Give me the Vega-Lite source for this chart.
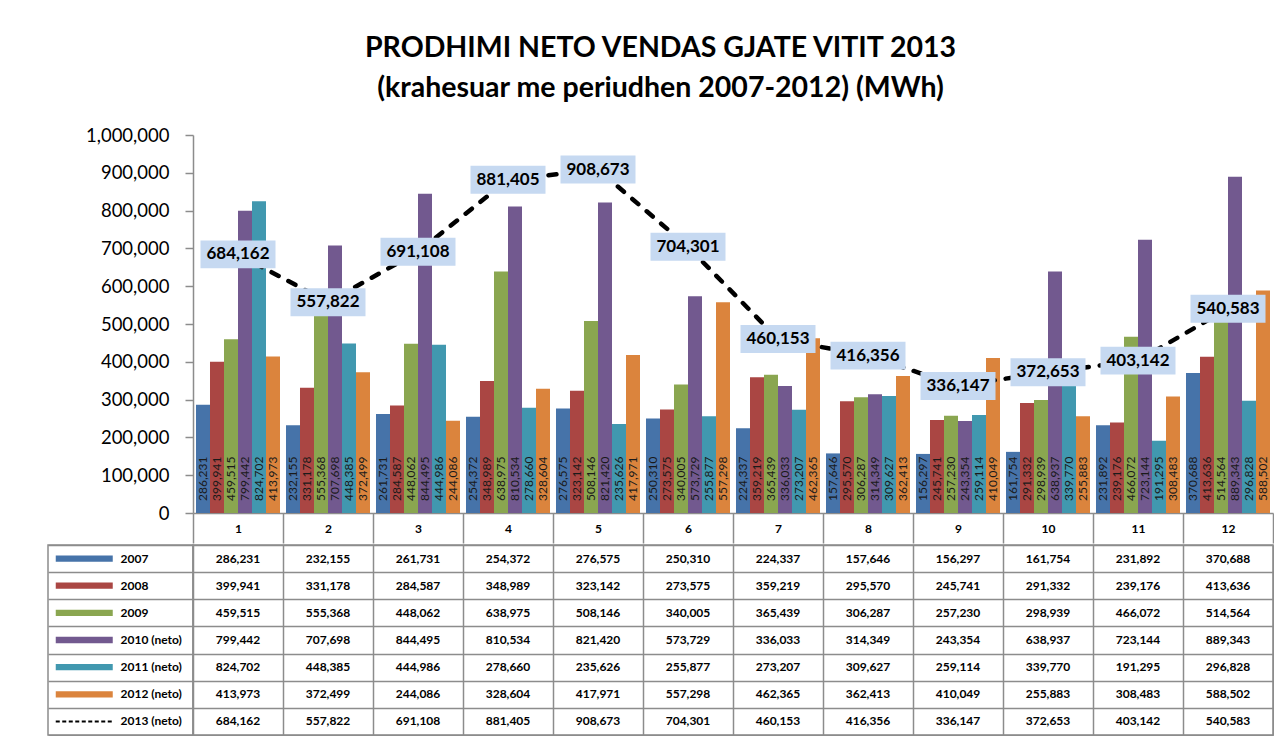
{
  "$schema": "https://vega.github.io/schema/vega-lite/v6.json",
  "autosize": {"type": "pad"},
  "padding": {"left": 47, "top": 33, "right": 0, "bottom": 0},
  "background": "white",
  "title": {
    "text": ["PRODHIMI NETO VENDAS  GJATE VITIT 2013", "(krahesuar me periudhen 2007-2012) (MWh)"],
    "font": "Lato", "fontSize": 28.5, "fontWeight": "bold", "color": "#000000",
    "anchor": "middle", "lineHeight": 40, "offset": 24
  },
  "config": {
    "view": {"stroke": null},
    "font": "Lato",
    "axis": {"labelFont": "Lato"}
  },
  "datasets": {
    "d": [
      {"month": 1, "series": "2007", "value": 286231},
      {"month": 2, "series": "2007", "value": 232155},
      {"month": 3, "series": "2007", "value": 261731},
      {"month": 4, "series": "2007", "value": 254372},
      {"month": 5, "series": "2007", "value": 276575},
      {"month": 6, "series": "2007", "value": 250310},
      {"month": 7, "series": "2007", "value": 224337},
      {"month": 8, "series": "2007", "value": 157646},
      {"month": 9, "series": "2007", "value": 156297},
      {"month": 10, "series": "2007", "value": 161754},
      {"month": 11, "series": "2007", "value": 231892},
      {"month": 12, "series": "2007", "value": 370688},
      {"month": 1, "series": "2008", "value": 399941},
      {"month": 2, "series": "2008", "value": 331178},
      {"month": 3, "series": "2008", "value": 284587},
      {"month": 4, "series": "2008", "value": 348989},
      {"month": 5, "series": "2008", "value": 323142},
      {"month": 6, "series": "2008", "value": 273575},
      {"month": 7, "series": "2008", "value": 359219},
      {"month": 8, "series": "2008", "value": 295570},
      {"month": 9, "series": "2008", "value": 245741},
      {"month": 10, "series": "2008", "value": 291332},
      {"month": 11, "series": "2008", "value": 239176},
      {"month": 12, "series": "2008", "value": 413636},
      {"month": 1, "series": "2009", "value": 459515},
      {"month": 2, "series": "2009", "value": 555368},
      {"month": 3, "series": "2009", "value": 448062},
      {"month": 4, "series": "2009", "value": 638975},
      {"month": 5, "series": "2009", "value": 508146},
      {"month": 6, "series": "2009", "value": 340005},
      {"month": 7, "series": "2009", "value": 365439},
      {"month": 8, "series": "2009", "value": 306287},
      {"month": 9, "series": "2009", "value": 257230},
      {"month": 10, "series": "2009", "value": 298939},
      {"month": 11, "series": "2009", "value": 466072},
      {"month": 12, "series": "2009", "value": 514564},
      {"month": 1, "series": "2010 (neto)", "value": 799442},
      {"month": 2, "series": "2010 (neto)", "value": 707698},
      {"month": 3, "series": "2010 (neto)", "value": 844495},
      {"month": 4, "series": "2010 (neto)", "value": 810534},
      {"month": 5, "series": "2010 (neto)", "value": 821420},
      {"month": 6, "series": "2010 (neto)", "value": 573729},
      {"month": 7, "series": "2010 (neto)", "value": 336033},
      {"month": 8, "series": "2010 (neto)", "value": 314349},
      {"month": 9, "series": "2010 (neto)", "value": 243354},
      {"month": 10, "series": "2010 (neto)", "value": 638937},
      {"month": 11, "series": "2010 (neto)", "value": 723144},
      {"month": 12, "series": "2010 (neto)", "value": 889343},
      {"month": 1, "series": "2011 (neto)", "value": 824702},
      {"month": 2, "series": "2011 (neto)", "value": 448385},
      {"month": 3, "series": "2011 (neto)", "value": 444986},
      {"month": 4, "series": "2011 (neto)", "value": 278660},
      {"month": 5, "series": "2011 (neto)", "value": 235626},
      {"month": 6, "series": "2011 (neto)", "value": 255877},
      {"month": 7, "series": "2011 (neto)", "value": 273207},
      {"month": 8, "series": "2011 (neto)", "value": 309627},
      {"month": 9, "series": "2011 (neto)", "value": 259114},
      {"month": 10, "series": "2011 (neto)", "value": 339770},
      {"month": 11, "series": "2011 (neto)", "value": 191295},
      {"month": 12, "series": "2011 (neto)", "value": 296828},
      {"month": 1, "series": "2012 (neto)", "value": 413973},
      {"month": 2, "series": "2012 (neto)", "value": 372499},
      {"month": 3, "series": "2012 (neto)", "value": 244086},
      {"month": 4, "series": "2012 (neto)", "value": 328604},
      {"month": 5, "series": "2012 (neto)", "value": 417971},
      {"month": 6, "series": "2012 (neto)", "value": 557298},
      {"month": 7, "series": "2012 (neto)", "value": 462365},
      {"month": 8, "series": "2012 (neto)", "value": 362413},
      {"month": 9, "series": "2012 (neto)", "value": 410049},
      {"month": 10, "series": "2012 (neto)", "value": 255883},
      {"month": 11, "series": "2012 (neto)", "value": 308483},
      {"month": 12, "series": "2012 (neto)", "value": 588502},
      {"month": 1, "series": "2013 (neto)", "value": 684162},
      {"month": 2, "series": "2013 (neto)", "value": 557822},
      {"month": 3, "series": "2013 (neto)", "value": 691108},
      {"month": 4, "series": "2013 (neto)", "value": 881405},
      {"month": 5, "series": "2013 (neto)", "value": 908673},
      {"month": 6, "series": "2013 (neto)", "value": 704301},
      {"month": 7, "series": "2013 (neto)", "value": 460153},
      {"month": 8, "series": "2013 (neto)", "value": 416356},
      {"month": 9, "series": "2013 (neto)", "value": 336147},
      {"month": 10, "series": "2013 (neto)", "value": 372653},
      {"month": 11, "series": "2013 (neto)", "value": 403142},
      {"month": 12, "series": "2013 (neto)", "value": 540583}
    ]
  },
  "data": {"name": "d"},
  "spacing": 0,
  "vconcat": [
    {
      "spacing": 0,
      "bounds": "flush",
      "hconcat": [
        {
          "width": 145,
          "height": 378,
          "transform": [{"filter": "false"}],
          "mark": {"type": "text"},
          "encoding": {}
        },
        {
          "width": 1080,
          "height": 378,
          "encoding": {
            "x": {
              "field": "month", "type": "ordinal",
              "scale": {"type": "band", "paddingInner": 0, "paddingOuter": 0},
              "axis": {
                "title": null, "labelAngle": 0, "labelFontWeight": "bold", "labelFontSize": 12,
                "labelColor": "#000000", "tickBand": "extent", "tickSize": 30, "tickColor": "#8c8c8c",
                "tickWidth": 1.5, "domainColor": "#8c8c8c", "domainWidth": 1.5,
                "labelBaseline": "middle", "labelPadding": -15, "grid": false
              }
            },
            "y": {
              "field": "value", "type": "quantitative",
              "scale": {"domain": [0, 1000000], "nice": false},
              "axis": {
                "title": null, "values": [0, 100000, 200000, 300000, 400000, 500000, 600000, 700000, 800000, 900000, 1000000],
                "labelExpr": "format(datum.value, ',')", "grid": false, "labelFontSize": 18.5, "labelColor": "#000000",
                "labelPadding": 16, "tickSize": 8, "tickColor": "#8c8c8c", "tickWidth": 1.5,
                "domainColor": "#8c8c8c", "domainWidth": 1.5
              }
            }
          },
          "layer": [
            {
              "transform": [{"filter": "datum.series !== '2013 (neto)'"}],
              "layer": [
                {
                  "mark": {"type": "bar"},
                  "encoding": {
                    "xOffset": {
                      "field": "series", "type": "nominal",
                      "sort": ["2007", "2008", "2009", "2010 (neto)", "2011 (neto)", "2012 (neto)"],
                      "scale": {"type": "band", "paddingInner": 0, "paddingOuter": 0.214}
                    },
                    "color": {
                      "field": "series", "type": "nominal",
                      "scale": {
                        "domain": ["2007", "2008", "2009", "2010 (neto)", "2011 (neto)", "2012 (neto)"],
                        "range": ["#4673A9", "#AA4643", "#8AA650", "#72598F", "#4198AF", "#DB843D"]
                      },
                      "legend": null
                    }
                  }
                },
                {
                  "mark": {"type": "text", "angle": 270, "align": "left", "baseline": "middle", "dx": 12, "fontSize": 12, "color": "#1a1a1a"},
                  "encoding": {
                    "xOffset": {
                      "field": "series", "type": "nominal",
                      "sort": ["2007", "2008", "2009", "2010 (neto)", "2011 (neto)", "2012 (neto)"],
                      "scale": {"type": "band", "paddingInner": 0, "paddingOuter": 0.214}
                    },
                    "y": {
                      "datum": 0, "type": "quantitative",
                      "axis": {
                        "title": null, "values": [0, 100000, 200000, 300000, 400000, 500000, 600000, 700000, 800000, 900000, 1000000],
                        "labelExpr": "format(datum.value, ',')", "grid": false, "labelFontSize": 18.5, "labelColor": "#000000",
                        "labelPadding": 16, "tickSize": 8, "tickColor": "#8c8c8c", "tickWidth": 1.5,
                        "domainColor": "#8c8c8c", "domainWidth": 1.5
                      }
                    },
                    "text": {"field": "value", "type": "quantitative", "format": ","}
                  }
                }
              ]
            },
            {
              "transform": [{"filter": "datum.series === '2013 (neto)'"}],
              "layer": [
                {
                  "mark": {"type": "line", "color": "#000000", "strokeWidth": 4.5, "strokeDash": [8, 11], "strokeCap": "round"},
                  "encoding": {}
                },
                {
                  "mark": {"type": "point", "shape": "M-1,-0.373L1,-0.373L1,0.373L-1,0.373Z", "size": 5625, "filled": true, "color": "#C6D9F1", "opacity": 1, "strokeWidth": 0},
                  "encoding": {}
                },
                {
                  "mark": {"type": "text", "fontSize": 17, "fontWeight": "bold", "color": "#000000", "baseline": "middle"},
                  "encoding": {"text": {"field": "value", "type": "quantitative", "format": ","}}
                }
              ]
            }
          ]
        }
      ]
    },
    {
      "spacing": 0,
      "bounds": "flush",
      "hconcat": [
        {
          "width": 145,
          "height": 190,
          "view": {"stroke": "#8c8c8c", "strokeWidth": 1.5},
          "transform": [{"aggregate": [{"op": "count", "as": "n"}], "groupby": ["series"]}],
          "encoding": {
            "y": {
              "field": "series", "type": "nominal",
              "sort": ["2007", "2008", "2009", "2010 (neto)", "2011 (neto)", "2012 (neto)", "2013 (neto)"],
              "scale": {"type": "band", "paddingInner": 0, "paddingOuter": 0},
              "axis": {"title": null, "labels": false, "ticks": false, "domain": false, "grid": true, "tickBand": "extent", "gridColor": "#8c8c8c", "gridWidth": 1.5}
            }
          },
          "layer": [
            {
              "transform": [{"filter": "datum.series !== '2013 (neto)'"}],
              "mark": {"type": "point", "shape": "M-1,-0.11L1,-0.11L1,0.11L-1,0.11Z", "size": 3249, "filled": true, "opacity": 1, "strokeWidth": 0},
              "encoding": {
                "x": {"datum": "swatch", "type": "nominal", "scale": {"type": "band", "domain": ["swatch", "label"], "paddingInner": 0, "paddingOuter": 0}, "axis": null},
                "color": {
                  "field": "series", "type": "nominal",
                  "scale": {
                    "domain": ["2007", "2008", "2009", "2010 (neto)", "2011 (neto)", "2012 (neto)"],
                    "range": ["#4673A9", "#AA4643", "#8AA650", "#72598F", "#4198AF", "#DB843D"]
                  },
                  "legend": null
                }
              }
            },
            {
              "transform": [{"filter": "datum.series === '2013 (neto)'"}],
              "mark": {"type": "point", "shape": "M-1,0L1,0", "size": 3249, "filled": false, "stroke": "#000000", "strokeWidth": 2, "strokeDash": [4, 2.5], "opacity": 1},
              "encoding": {
                "x": {"datum": "swatch", "type": "nominal", "scale": {"type": "band", "domain": ["swatch", "label"], "paddingInner": 0, "paddingOuter": 0}, "axis": null}
              }
            },
            {
              "mark": {"type": "text", "align": "left", "baseline": "middle", "fontSize": 12, "fontWeight": "bold", "color": "#000000"},
              "encoding": {
                "x": {"datum": "label", "type": "nominal", "bandPosition": 0, "scale": {"type": "band", "domain": ["swatch", "label"], "paddingInner": 0, "paddingOuter": 0}, "axis": null},
                "text": {"field": "series", "type": "nominal"}
              }
            }
          ]
        },
        {
          "width": 1080,
          "height": 190,
          "view": {"stroke": "#8c8c8c", "strokeWidth": 1.5},
          "mark": {"type": "text", "fontSize": 12, "fontWeight": "bold", "color": "#000000", "baseline": "middle"},
          "encoding": {
            "x": {
              "field": "month", "type": "ordinal",
              "scale": {"type": "band", "paddingInner": 0, "paddingOuter": 0},
              "axis": {"title": null, "labels": false, "ticks": false, "domain": false, "grid": true, "tickBand": "extent", "gridColor": "#8c8c8c", "gridWidth": 1.5}
            },
            "y": {
              "field": "series", "type": "nominal",
              "sort": ["2007", "2008", "2009", "2010 (neto)", "2011 (neto)", "2012 (neto)", "2013 (neto)"],
              "scale": {"type": "band", "paddingInner": 0, "paddingOuter": 0},
              "axis": {"title": null, "labels": false, "ticks": false, "domain": false, "grid": true, "tickBand": "extent", "gridColor": "#8c8c8c", "gridWidth": 1.5}
            },
            "text": {"field": "value", "type": "quantitative", "format": ","}
          }
        }
      ]
    }
  ]
}
